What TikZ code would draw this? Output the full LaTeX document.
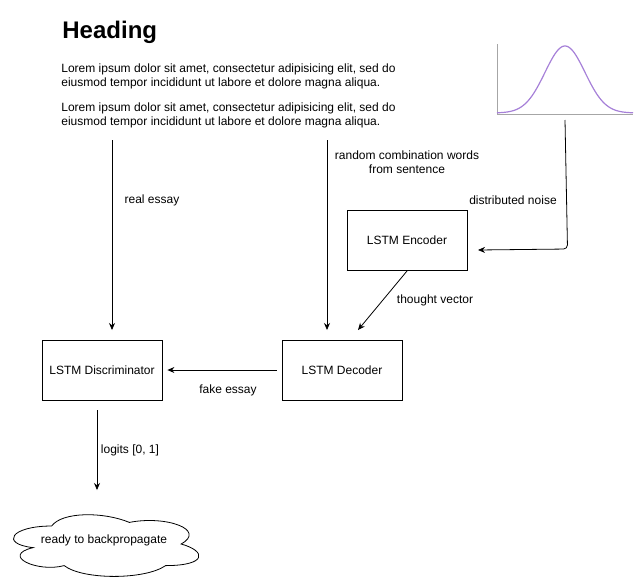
\documentclass[tikz,border=0pt]{standalone}
\usepackage{fontspec}
\setmainfont{Liberation Sans}
\usepackage{xcolor}
\usetikzlibrary{arrows.meta}
\definecolor{gausspurple}{HTML}{A680D8}

\begin{document}
\begin{tikzpicture}[x=1pt,y=-1pt,line width=0.8pt,
    font=\fontsize{12}{14}\selectfont,
    lstmbox/.style={draw,minimum width=120pt,minimum height=60pt,inner sep=0pt},
    flow/.style={-{Stealth[length=7pt,width=6pt]}},
    edgelabel/.style={inner sep=1pt}]
                        \useasboundingbox (0,0) rectangle (644,581);
                        % heading and text
                        \node [anchor=west,font=\fontsize{24}{28}\selectfont\bfseries,inner sep=0pt] (heading) at (62,32) {Heading};
                        \node [anchor=north west,align=left,inner sep=0pt] (para1) at (61,63) {Lorem ipsum dolor sit amet, consectetur adipisicing elit, sed do\\eiusmod tempor incididunt ut labore et dolore magna aliqua.};
                        \node [anchor=north west,align=left,inner sep=0pt] (para2) at (61,102) {Lorem ipsum dolor sit amet, consectetur adipisicing elit, sed do\\eiusmod tempor incididunt ut labore et dolore magna aliqua.};
                        % noise distribution
                        \draw [gray!70,line width=1pt] (497,44) -- (497,114) -- (633,114);
                        \draw [gausspurple,line width=1.2pt] plot [domain=497:633,samples=90,smooth] (\x,{113-67*exp(-((\x-565)/20)^2/2)});
                        % boxes
                        \node [lstmbox] (enc) at (407,240) {LSTM Encoder};
                        \node [lstmbox] (dec) at (342,370) {LSTM Decoder};
                        \node [lstmbox] (disc) at (102,370) {LSTM Discriminator};
                        % cloud
                        \begin{scope}[shift={(0,508)},xscale=207,yscale=72]
                            \draw (0.25,0.25) .. controls (0.05,0.25) and (0,0.5) .. (0.16,0.55)
                                .. controls (0,0.66) and (0.18,0.9) .. (0.31,0.8)
                                .. controls (0.4,1) and (0.7,1) .. (0.8,0.8)
                                .. controls (1,0.8) and (1,0.6) .. (0.875,0.5)
                                .. controls (1,0.3) and (0.8,0.1) .. (0.625,0.2)
                                .. controls (0.5,0.05) and (0.3,0.05) .. cycle;
                        \end{scope}
                        \node (ready) at (104,540) {ready to backpropagate};
                        % free ends
                        \coordinate (realsrc) at (112,140);
                        \coordinate (realend) at (112,330);
                        \coordinate (randsrc) at (327,140);
                        \coordinate (randend) at (327,330);
                        \coordinate (noisesrc) at (565,120);
                        \coordinate (noisebend) at (567.5,249);
                        \coordinate (noiseend) at (478,250);
                        \coordinate (tvend) at (358,330);
                        \coordinate (logitsrc) at (97,410);
                        \coordinate (logitend) at (97,490);
                        % connectors
                        \draw [flow] (realsrc) -- (realend);
                        \draw [flow] (randsrc) -- (randend);
                        \draw [flow,rounded corners=4pt] (noisesrc) -- (noisebend) -- (noiseend);
                        \draw [flow] (407,271) -- (tvend);
                        \draw [flow,shorten <=5pt,shorten >=5pt] (dec.west) -- (disc.east);
                        \draw [flow] (logitsrc) -- (logitend);
                        % labels
                        \node [edgelabel] (reallbl) at (152,200) {real essay};
                        \node [edgelabel,align=center] (randlbl) at (407,162) {random combination words\\from sentence};
                        \node [edgelabel] (noiselbl) at (513,200) {distributed noise};
                        \node [edgelabel] (tvlbl) at (435,300) {thought vector};
                        \node [edgelabel] (fakelbl) at (228,390) {fake essay};
                        \node [edgelabel] (logitlbl) at (130,450) {logits [0, 1]};
                \end{tikzpicture}
\end{document}
